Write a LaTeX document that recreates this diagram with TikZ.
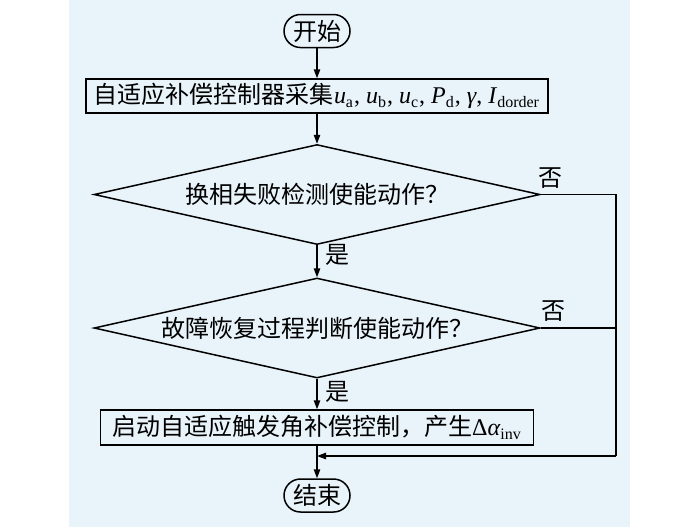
\documentclass[tikz,border=0pt]{standalone}
\usepackage{fontspec}
\setmainfont{Liberation Serif}
\newfontfamily\cjk{Noto Sans CJK SC}
\usetikzlibrary{arrows.meta,shapes.geometric}
\definecolor{panelblue}{RGB}{232,243,250}

\begin{document}
\begin{tikzpicture}[x=0.5pt,y=-0.5pt,>={Triangle[length=4.5pt,width=3.2pt]},
    every node/.style={font=\cjk\fontsize{12}{14}\selectfont},
    every path/.style={line width=0.75pt},
    term/.style={draw,rounded corners=8.25pt,minimum width=33pt,minimum height=16.5pt,inner sep=1pt},
    procbox/.style={draw,minimum height=17pt,inner sep=1pt},
    decide/.style={draw,diamond,aspect=4.46,inner sep=0pt,minimum width=223pt,minimum height=50pt}]
  \useasboundingbox (0,0) rectangle (700,527);
  \fill[panelblue] (69,0) rectangle (630,527); % panel

  \node[term] (start) at (317,31) {开始};
  \node[procbox,minimum width=231pt] (collect) at (317,96)
    {自适应补偿控制器采集{\rmfamily\textit{u}\textsubscript{a}, \textit{u}\textsubscript{b}, \textit{u}\textsubscript{c}, \textit{P}\textsubscript{d}, \textit{γ}, \textit{I}\textsubscript{dorder}}};
  \node[decide] (commfail) at (317,194.5) {换相失败检测使能动作？};
  \node[decide] (recover) at (317,328) {故障恢复过程判断使能动作？};
  \node[procbox,minimum width=216.5pt,minimum height=17.5pt] (launch) at (317,427.5)
    {启动自适应触发角补偿控制，产生{\rmfamily Δ\textit{α}\textsubscript{inv}}};
  \node[term] (finish) at (317,495.5) {结束};

  \node (yes1) at (337,255) {是};
  \node (yes2) at (337,392) {是};
  \node (no1) at (550,178) {否};
  \node (no2) at (553,311) {否};

  \coordinate (rtop) at (616,194.5);
  \coordinate (rbot) at (616,456);
  \coordinate (join) at (317,456);

  \draw[->] (start) -- (collect);
  \draw[->] (collect) -- (commfail);
  \draw[->] (commfail) -- (recover);
  \draw[->] (recover) -- (launch);
  \draw[->] (launch) -- (finish);
  \draw (commfail.east) -- (rtop) -- (rbot); % no branch
  \draw (recover.east) -- (recover.east -| rtop);
  \draw[->] (rbot) -- (join);
\end{tikzpicture}
\end{document}
